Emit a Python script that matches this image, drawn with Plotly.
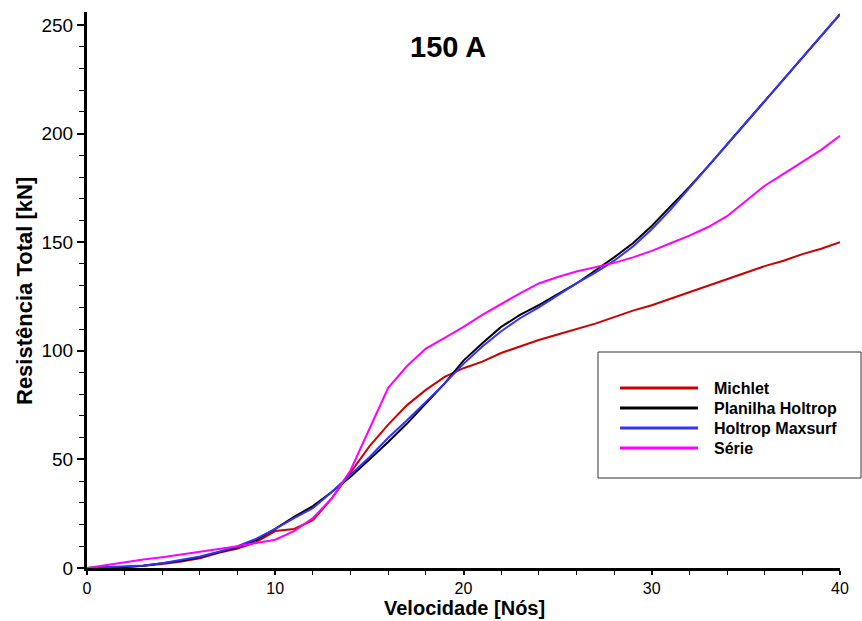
import plotly.graph_objects as go

# Speed in knots
velocidade = list(range(0, 41))

# Total resistance [kN] for each method
michlet = [0, 0.2, 0.5, 1.0, 1.8, 3.0, 4.5, 7.0, 9.0, 12.0,
           17.0, 18.0, 22.0, 32.0, 44.0, 56.0, 66.0, 75.0, 82.0, 88.0,
           92.0, 95.0, 99.0, 102.0, 105.0, 107.5, 110.0, 112.5, 115.5, 118.5,
           121.0, 124.0, 127.0, 130.0, 133.0, 136.0, 139.0, 141.5, 144.5, 147.0,
           150.0]
planilha_holtrop = [0, 0.2, 0.5, 1.0, 2.0, 3.3, 5.0, 7.2, 9.5, 13.0,
                    18.0, 23.5, 28.5, 35.0, 42.0, 50.0, 58.0, 66.5, 75.5, 85.0,
                    95.5, 103.5, 111.0, 116.5, 121.0, 126.0, 131.0, 137.0, 143.0, 149.5,
                    157.5, 166.5, 175.5, 185.0, 195.0, 205.0, 215.0, 225.0, 235.0, 245.0,
                    255.0]
holtrop_maxsurf = [0, 0.3, 0.6, 1.2, 2.2, 3.6, 5.3, 7.5, 10.0, 13.5,
                   18.0, 23.0, 27.5, 35.0, 43.0, 51.0, 60.0, 68.0, 76.5, 85.0,
                   94.0, 102.0, 109.0, 115.0, 120.0, 125.5, 131.0, 136.0, 141.5, 148.0,
                   156.0, 165.0, 175.0, 185.0, 195.0, 205.0, 215.0, 225.0, 235.0, 245.0,
                   255.0]
serie = [0, 1.4, 2.8, 3.9, 5.0, 6.2, 7.5, 8.7, 10.0, 11.5,
         13.0, 17.0, 23.0, 32.0, 45.0, 64.0, 83.0, 93.0, 101.0, 106.0,
         111.0, 116.5, 121.5, 126.5, 131.0, 134.0, 136.5, 138.5, 140.5, 143.0,
         146.0, 149.5, 153.0, 157.0, 162.0, 169.0, 176.0, 181.5, 187.0, 192.5,
         199.0]

series_names = ["Michlet", "Planilha Holtrop", "Holtrop Maxsurf", "Série"]
series_values = [michlet, planilha_holtrop, holtrop_maxsurf, serie]
series_colors = ["#CC0000", "#000000", "#3333FF", "#FF00FF"]

title_text = "150 A"
x_title = "Velocidade [Nós]"
y_title = "Resistência Total [kN]"

FONT = "Arial, Liberation Sans, sans-serif"

W, H = 862, 621
ML, MR, MT, MB = 87, 22, 12, 53
PW, PH = W - ML - MR, H - MT - MB


def px_x(px):
    return (px - ML) / PW


def px_y(py):
    return (H - MB - py) / PH


fig = go.Figure()

for name, vals, col in zip(series_names, series_values, series_colors):
    fig.add_trace(go.Scatter(
        x=velocidade, y=vals, mode="lines", name=name,
        line=dict(color=col, width=2), showlegend=False,
    ))

# Boxed legend with long line samples
shapes = [dict(type="rect", xref="paper", yref="paper",
               x0=px_x(598), x1=px_x(861), y0=px_y(478), y1=px_y(352),
               line=dict(color="#333333", width=1), fillcolor="white", layer="above")]
annotations = []
row_y = [388, 408, 428, 448]
for name, col, ry in zip(series_names, series_colors, row_y):
    shapes.append(dict(type="line", xref="paper", yref="paper",
                       x0=px_x(620), x1=px_x(698), y0=px_y(ry), y1=px_y(ry),
                       line=dict(color=col, width=3), layer="above"))
    annotations.append(dict(xref="paper", yref="paper", x=px_x(712), y=px_y(ry),
                            text=f"<b>{name}</b>", showarrow=False,
                            xanchor="left", yanchor="middle",
                            font=dict(family=FONT, size=16, color="#000000")))

annotations.append(dict(xref="paper", yref="paper", x=px_x(448), y=px_y(47),
                        text=f"<b>{title_text}</b>", showarrow=False,
                        xanchor="center", yanchor="middle",
                        font=dict(family=FONT, size=29, color="#000000")))
annotations.append(dict(xref="paper", yref="paper", x=px_x(464), y=px_y(608),
                        text=f"<b>{x_title}</b>", showarrow=False,
                        xanchor="center", yanchor="middle",
                        font=dict(family=FONT, size=20, color="#000000")))
annotations.append(dict(xref="paper", yref="paper", x=px_x(24), y=px_y(291),
                        text=f"<b>{y_title}</b>", showarrow=False, textangle=-90,
                        xanchor="center", yanchor="middle",
                        font=dict(family=FONT, size=22, color="#000000")))

axis_common = dict(
    showgrid=False, zeroline=False, showline=True, linecolor="#000000", linewidth=3,
    ticks="outside", tickwidth=2, tickcolor="#000000",
)

fig.update_layout(
    width=W, height=H,
    margin=dict(l=ML, r=MR, t=MT, b=MB),
    paper_bgcolor="white", plot_bgcolor="white",
    shapes=shapes, annotations=annotations,
    xaxis=dict(range=[0, 40], tickvals=[0, 10, 20, 30, 40], ticklen=4,
               tickfont=dict(family=FONT, size=16, color="#000000"),
               minor=dict(dtick=2, ticks="outside", ticklen=4, tickwidth=1, tickcolor="#000000"),
               **axis_common),
    yaxis=dict(range=[0, 256], tickvals=[0, 50, 100, 150, 200, 250], ticklen=7,
               tickfont=dict(family=FONT, size=19, color="#000000"),
               minor=dict(dtick=10, ticks="outside", ticklen=5, tickwidth=1, tickcolor="#000000"),
               **axis_common),
)

fig.write_html("out.html")
